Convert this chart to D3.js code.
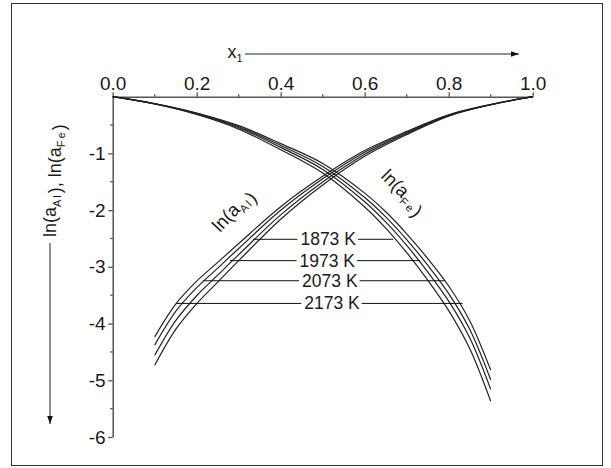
<!DOCTYPE html>
<html><head><meta charset="utf-8">
<script src="https://cdn.jsdelivr.net/npm/d3@7"></script>
<style>body{margin:0;background:#fff}svg{display:block}text{font-family:"Liberation Sans",Arial,sans-serif;fill:#1a1a1a}</style>
</head><body><svg id="c" width="611" height="468"></svg>
<script>
// ---- data ----
const xA = [0.1, 0.15, 0.2, 0.25, 0.3, 0.4, 0.5, 0.6, 0.7, 0.8, 0.9, 1.0];
const lnAl_2173 = [-4.235, -3.657, -3.252, -2.921, -2.589, -1.939, -1.403, -0.950, -0.612, -0.318, -0.137, 0];
const lnAl_2073 = [-4.380, -3.786, -3.367, -3.022, -2.676, -2.003, -1.448, -0.979, -0.628, -0.325, -0.139, 0];
const lnAl_1973 = [-4.560, -3.947, -3.509, -3.147, -2.785, -2.083, -1.503, -1.015, -0.648, -0.334, -0.141, 0];
const lnAl_1873 = [-4.735, -4.103, -3.648, -3.269, -2.891, -2.161, -1.557, -1.050, -0.668, -0.342, -0.143, 0];

const xB = [0, 0.1, 0.2, 0.3, 0.4, 0.5, 0.6, 0.65, 0.7, 0.75, 0.8, 0.85, 0.9];
const lnFe_2173 = [0, -0.122, -0.287, -0.510, -0.827, -1.177, -1.700, -2.029, -2.417, -2.853, -3.337, -3.949, -4.820];
const lnFe_2073 = [0, -0.124, -0.295, -0.529, -0.860, -1.229, -1.776, -2.118, -2.519, -2.971, -3.471, -4.101, -4.990];
const lnFe_1973 = [0, -0.126, -0.303, -0.548, -0.894, -1.282, -1.851, -2.207, -2.622, -3.089, -3.605, -4.252, -5.160];
const lnFe_1873 = [0, -0.128, -0.314, -0.571, -0.935, -1.347, -1.944, -2.316, -2.749, -3.234, -3.771, -4.440, -5.370];

const tempLabels = ["1873 K", "1973 K", "2073 K", "2173 K"];
const labelY = [-2.514, -2.89, -3.245, -3.645];
const labelX = [0.513, 0.511, 0.517, 0.522];
const leaderLeft = [0.334, 0.279, 0.216, 0.152];
const leaderRight = [0.668, 0.732, 0.791, 0.833];

const xTicks = [0, 0.2, 0.4, 0.6, 0.8, 1.0];
const xMinor = [0.1, 0.3, 0.5, 0.7, 0.9];
const yTicks = [-1, -2, -3, -4, -5, -6];
const yMinor = [-0.5, -1.5, -2.5, -3.5, -4.5, -5.5];

// ---- drawing ----
const svg = d3.select("#c");
svg.append("rect").attr("x", 11.5).attr("y", 3.5).attr("width", 591).attr("height", 462)
  .attr("fill", "#fff").attr("stroke", "#333").attr("stroke-width", 1);

const x = d3.scaleLinear().domain([0, 1]).range([112.7, 532.7]);
const y = d3.scaleLinear().domain([0, -6]).range([96.7, 437]);

const axisColor = "#555";
const xAxis = svg.append("g").attr("transform", `translate(0,${y(0)})`)
  .call(d3.axisTop(x).tickValues(xTicks).tickFormat(d3.format(".1f")).tickSize(4.5).tickSizeOuter(0).tickPadding(2));
xAxis.append("g").selectAll("line").data(xMinor).join("line")
  .attr("x1", d => x(d)).attr("x2", d => x(d)).attr("y1", 0).attr("y2", -2.5);
const yAxis = svg.append("g").attr("transform", `translate(${x(0)},0)`)
  .call(d3.axisLeft(y).tickValues(yTicks).tickFormat(d3.format("d")).tickSize(4.5).tickSizeOuter(0).tickPadding(2.5));
yAxis.append("g").selectAll("line").data(yMinor).join("line")
  .attr("y1", d => y(d)).attr("y2", d => y(d)).attr("x1", 0).attr("x2", -2.5);
[xAxis, yAxis].forEach(g => {
  g.select(".domain").attr("stroke", axisColor).attr("stroke-width", 1.5);
  g.selectAll("line").attr("stroke", axisColor).attr("stroke-width", 1.3);
  g.selectAll("text").attr("font-size", 19).attr("fill", "#1a1a1a")
    .style("font-family", '"Liberation Sans", Arial, sans-serif');
});
yAxis.selectAll(".tick text").text(d => "-" + Math.abs(d));

// curves
const line = d3.line().x(d => x(d[0])).y(d => y(d[1])).curve(d3.curveCatmullRom.alpha(0.5));
const famA = [lnAl_2173, lnAl_2073, lnAl_1973, lnAl_1873];
const famB = [lnFe_2173, lnFe_2073, lnFe_1973, lnFe_1873];
const g = svg.append("g").attr("fill", "none").attr("stroke", "#222").attr("stroke-width", 1.2);
famA.forEach(s => g.append("path").attr("d", line(xA.map((v, i) => [v, s[i]]))));
famB.forEach(s => g.append("path").attr("d", line(xB.map((v, i) => [v, s[i]]))));

// temperature labels with leader lines
tempLabels.forEach((t, i) => {
  const tx = svg.append("text").attr("x", x(labelX[i])).attr("y", y(labelY[i]))
    .attr("text-anchor", "middle").attr("dominant-baseline", "central")
    .attr("font-size", 17.5).text(t);
  const w = tx.node().getComputedTextLength();
  const cx = x(labelX[i]);
  svg.append("line").attr("x1", x(leaderLeft[i])).attr("x2", cx - w / 2 - 3)
    .attr("y1", y(labelY[i])).attr("y2", y(labelY[i])).attr("stroke", "#111").attr("stroke-width", 1);
  svg.append("line").attr("x1", cx + w / 2 + 2).attr("x2", x(leaderRight[i]))
    .attr("y1", y(labelY[i])).attr("y2", y(labelY[i])).attr("stroke", "#111").attr("stroke-width", 1);
});

// text with subscript helper
function subText(sel, parts, size, subSize) {
  parts.forEach(p => {
    if (p.sub) {
      sel.append("tspan").attr("font-size", subSize).attr("dy", 4.5).attr("letter-spacing", 2).text(p.t);
      sel.append("tspan").attr("dy", -4.5).text("");
    } else sel.append("tspan").attr("font-size", size).text(p.t);
  });
}

// curve labels
const tAl = svg.append("text").attr("transform", "translate(220,233) rotate(-47)");
subText(tAl, [{t: "ln(a"}, {t: "Al", sub: true}, {t: ")"}], 18.5, 11);
const tFe = svg.append("text").attr("transform", "translate(380,177) rotate(45)");
subText(tFe, [{t: "ln(a"}, {t: "Fe", sub: true}, {t: ")"}], 18.5, 11);

// y title
const yt = svg.append("text").attr("transform", "translate(56,237) rotate(-90)");
subText(yt, [{t: "ln(a"}, {t: "Al", sub: true}, {t: "), ln(a"}, {t: "Fe", sub: true}, {t: ")"}], 18, 11);

// x title
const xt = svg.append("text").attr("x", 227.5).attr("y", 57.5);
subText(xt, [{t: "x"}, {t: "1", sub: true}], 18, 11);

// arrows
const defs = svg.append("defs");
defs.append("marker").attr("id", "ah").attr("viewBox", "0 0 10 10").attr("refX", 10).attr("refY", 5)
  .attr("markerWidth", 8).attr("markerHeight", 8).attr("markerUnits", "userSpaceOnUse").attr("orient", "auto")
  .append("path").attr("d", "M0,1.5 L10,5 L0,8.5 Z").attr("fill", "#111");
svg.append("line").attr("x1", 245).attr("x2", 519).attr("y1", 54).attr("y2", 54)
  .attr("stroke", "#222").attr("stroke-width", 1).attr("marker-end", "url(#ah)");
svg.append("line").attr("x1", 50).attr("x2", 50).attr("y1", 243).attr("y2", 424)
  .attr("stroke", "#222").attr("stroke-width", 1).attr("marker-end", "url(#ah)");
</script></body></html>
